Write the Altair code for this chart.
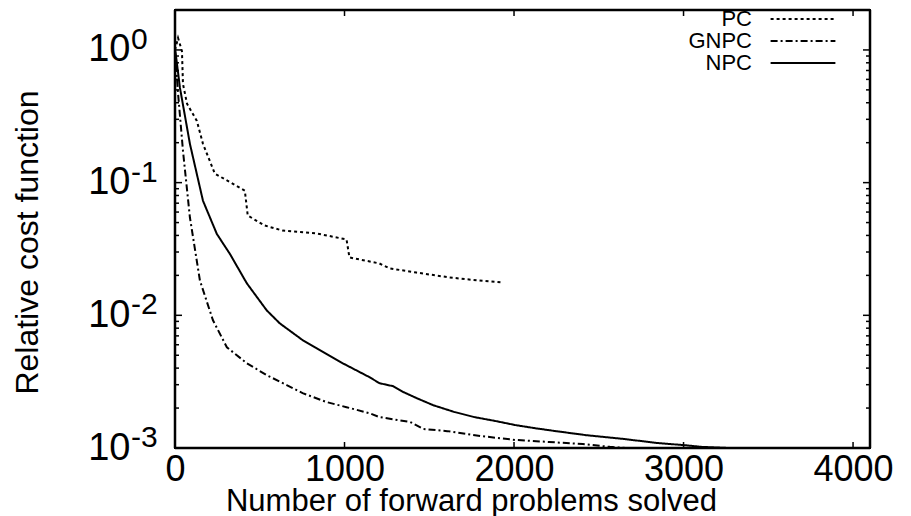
import altair as alt
import pandas as pd
import numpy as np

# ---- data ----
series = ["PC", "GNPC", "NPC"]

pc_x = [0, 18, 41, 47, 71, 129, 165, 235, 412, 429, 529, 635, 835, 1012, 1029, 1206, 1265, 1424, 1618, 1718, 1929]
pc_y = [1.0, 1.23, 0.98, 0.555, 0.393, 0.292, 0.196, 0.117, 0.087, 0.0565, 0.0475, 0.0435, 0.0414, 0.0373,
        0.0273, 0.0246, 0.0226, 0.021, 0.0193, 0.0187, 0.0177]

gnpc_x = [0, 18, 47, 88, 147, 224, 306, 424, 541, 659, 753, 894, 1012, 1147, 1206, 1388, 1465, 1606, 1806,
          2006, 2206, 2406, 2565, 2660]
gnpc_y = [1.0, 0.47, 0.174, 0.0546, 0.0183, 0.00917, 0.00574, 0.00435, 0.00354, 0.00298, 0.00259, 0.00222,
          0.00203, 0.00183, 0.00171, 0.00157, 0.00139, 0.00134, 0.00123, 0.00115, 0.00111, 0.00107, 0.00102, 0.001]

npc_x = [0, 6, 29, 88, 165, 247, 324, 424, 541, 618, 753, 835, 988, 1147, 1206, 1288, 1347, 1424, 1524, 1647,
         1765, 1888, 2006, 2124, 2247, 2424, 2647, 2847, 3006, 3106, 3265, 3400]
npc_y = [1.0, 0.9, 0.52, 0.196, 0.073, 0.041, 0.029, 0.0174, 0.0109, 0.0087, 0.0065, 0.00565, 0.00436, 0.00342,
         0.00308, 0.00292, 0.00264, 0.00238, 0.0021, 0.00187, 0.00171, 0.0016, 0.00149, 0.00141, 0.00134,
         0.00125, 0.00117, 0.00109, 0.00105, 0.00102, 0.001, 0.00097]

x_ticks = [0, 1000, 2000, 3000, 4000]
y_ticks = [0.001, 0.01, 0.1, 1]
y_tick_base = "10"
y_tick_exponents = ["-3", "-2", "-1", "0"]

# ---- layout ----
W, H = 695, 438
XMAX = 4100
YMIN, YMAX = 1e-3, 2.0
FONT = "Liberation Sans"

rows = []
for name, xs, ys in [("PC", pc_x, pc_y), ("GNPC", gnpc_x, gnpc_y), ("NPC", npc_x, npc_y)]:
    for i, (a, b) in enumerate(zip(xs, ys)):
        rows.append({"series": name, "x": a, "y": b, "order": i})
df = pd.DataFrame(rows)

xscale = alt.Scale(domain=[0, XMAX], nice=False, zero=False)
yscale = alt.Scale(type="log", domain=[YMIN, YMAX], nice=False)

xaxis = alt.Axis(values=x_ticks, ticks=False, domain=False, grid=False, format="d",
                 labelFontSize=36, labelFont=FONT, labelColor="black", labelPadding=4,
                 labelFlush=False, labelOverlap=False,
                 title="Number of forward problems solved", titleFontSize=31,
                 titleFont=FONT, titleFontWeight="normal", titleColor="black",
                 titleX=296, titleY=62, titleBaseline="alphabetic")
yaxis = alt.Axis(values=y_ticks, ticks=False, domain=False, grid=False, labelExpr="'%s'" % y_tick_base,
                 labelFontSize=38, labelFont=FONT, labelColor="black", labelPadding=45,
                 labelOverlap=False, labelFlush=False, labelBaseline="middle",
                 title="Relative cost function", titleFontSize=32, titleFont=FONT,
                 titleFontWeight="normal", titleColor="black",
                 titleX=-148, titleY=232, titleBaseline="middle")

lines = alt.Chart(df).mark_line(color="black", strokeWidth=2, clip=True).encode(
    x=alt.X("x:Q", scale=xscale, axis=xaxis),
    y=alt.Y("y:Q", scale=yscale, axis=yaxis),
    strokeDash=alt.StrokeDash("series:N",
                              scale=alt.Scale(domain=series, range=[[3, 3], [7, 3, 2, 3], [1, 0]]),
                              legend=alt.Legend(title=None, orient="none", legendX=617, legendY=-2,
                                                labelAlign="right", labelOffset={"expr": "-62"},
                                                symbolType="M-3.6,0H3.6",
                                                symbolSize=324, symbolStrokeWidth=2,
                                                symbolStrokeColor="black",
                                                symbolFillColor="transparent", labelFontSize=22,
                                                labelFont=FONT, labelColor="black", padding=0,
                                                labelLimit=0, rowPadding=0)),
    order="order:Q",
)

# ---- exponents of the y tick labels (superscripts) ----
exp_df = pd.DataFrame({"y": y_ticks, "e": y_tick_exponents})
exps = alt.Chart(exp_df).mark_text(align="left", baseline="alphabetic", fontSize=30, font=FONT,
                                   color="black", dx=-44, dy=-1).encode(
    x=alt.value(0),
    y=alt.Y("y:Q", scale=yscale, axis=yaxis),
    text="e:N")

# ---- plot frame (box around the plot area, drawn at the domain edges) ----
frame_df = pd.DataFrame([
    {"x": 0, "x2": XMAX, "y": YMAX, "y2": YMAX},
    {"x": 0, "x2": XMAX, "y": YMIN, "y2": YMIN},
    {"x": 0, "x2": 0, "y": YMIN, "y2": YMAX},
    {"x": XMAX, "x2": XMAX, "y": YMIN, "y2": YMAX},
])
frame = alt.Chart(frame_df).mark_rule(color="black", strokeWidth=2.5).encode(
    x=alt.X("x:Q", scale=xscale, axis=xaxis), x2="x2:Q",
    y=alt.Y("y:Q", scale=yscale, axis=yaxis), y2="y2:Q")

# ---- inward tick marks (gnuplot style, mirrored) ----
dx_major = XMAX * 7 / W
dx_minor = XMAX * 4 / W
ppd = H / np.log10(YMAX / YMIN)
fy = 10 ** (6 / ppd)

y_minor = [m * 10.0 ** k for k in range(-3, 1) for m in range(2, 10) if m * 10.0 ** k < YMAX]

ytick_rows = []
for v in y_ticks:
    ytick_rows.append({"y": v, "x": 0, "x2": dx_major})
    ytick_rows.append({"y": v, "x": XMAX - dx_major, "x2": XMAX})
for v in y_minor:
    ytick_rows.append({"y": v, "x": 0, "x2": dx_minor})
    ytick_rows.append({"y": v, "x": XMAX - dx_minor, "x2": XMAX})
ytick_df = pd.DataFrame(ytick_rows)

xtick_rows = []
for v in x_ticks:
    xtick_rows.append({"x": v, "y": YMIN, "y2": YMIN * fy})
    xtick_rows.append({"x": v, "y": YMAX / fy, "y2": YMAX})
xtick_df = pd.DataFrame(xtick_rows)

yt = alt.Chart(ytick_df).mark_rule(color="black", strokeWidth=1.5).encode(
    x=alt.X("x:Q", scale=xscale, axis=xaxis), x2="x2:Q",
    y=alt.Y("y:Q", scale=yscale, axis=yaxis))
xt = alt.Chart(xtick_df).mark_rule(color="black", strokeWidth=1.5).encode(
    x=alt.X("x:Q", scale=xscale, axis=xaxis),
    y=alt.Y("y:Q", scale=yscale, axis=yaxis), y2="y2:Q")

chart = alt.layer(lines, yt, xt, exps, frame).properties(
    width=W, height=H,
    autosize=alt.AutoSizeParams(type="none"),
    padding={"left": 175, "top": 10, "right": 911 - 175 - W, "bottom": 516 - 10 - H},
    background="white",
).configure(font=FONT).configure_view(stroke="black", strokeWidth=2)

chart.save("out.html", embed_options={"renderer": "svg", "actions": False})
